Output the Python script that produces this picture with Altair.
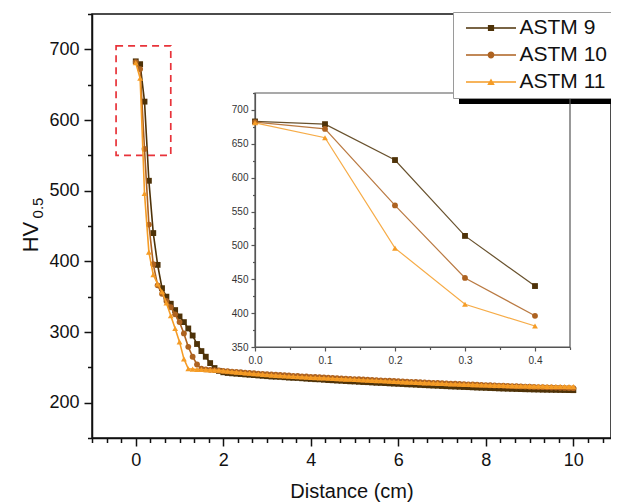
import altair as alt
import pandas as pd

# ---------------- data ----------------
series_names = ["ASTM 9", "ASTM 10", "ASTM 11"]
series_colors = ["#4e3208", "#ad6220", "#f59c26"]
series_shapes = ["square", "circle", "triangle-up"]

distance = [round(i * 0.1, 1) for i in range(101)]

astm9 = [683, 679, 626, 514, 440, 395, 362, 350, 340, 331,
         322, 314, 305, 295, 283, 273, 265, 256, 249, 245,
         243, 242, 241.5, 241, 240.5, 240, 239.5, 239, 238.5, 238,
         237.5, 237, 236.8, 236.5, 236, 235.5, 235.2, 235, 234.5, 234,
         233.6, 233.2, 233, 232.5, 232, 231.7, 231.3, 231, 230.6, 230.2,
         230, 229.6, 229.2, 229, 228.6, 228.2, 228, 227.7, 227.3, 227,
         226.7, 226.4, 226, 225.8, 225.5, 225.1, 224.8, 224.5, 224.2, 224,
         223.6, 223.3, 223, 222.8, 222.5, 222.2, 222, 221.7, 221.4, 221.2,
         221, 220.7, 220.5, 220.2, 220, 219.8, 219.6, 219.4, 219.2, 219,
         218.9, 218.7, 218.6, 218.4, 218.3, 218.2, 218.1, 218, 217.9, 217.8, 217.7]

astm10 = [682, 672, 559, 452, 396, 366, 354, 344, 335, 325,
          314, 298, 279, 265, 254, 248, 247, 246.5, 246, 245.5,
          245, 244.5, 244, 243.5, 243, 242.5, 242, 241.6, 241.2, 240.8,
          240.4, 240, 239.6, 239.2, 238.8, 238.4, 238, 237.7, 237.3, 237,
          236.6, 236.3, 236, 235.6, 235.3, 235, 234.6, 234.3, 234, 233.7,
          233.4, 233.1, 232.8, 232.5, 232.2, 231.9, 231.6, 231.3, 231, 230.7,
          230.4, 230.1, 229.8, 229.5, 229.2, 229, 228.7, 228.4, 228.1, 227.9,
          227.6, 227.3, 227, 226.8, 226.5, 226.2, 226, 225.7, 225.4, 225.2,
          224.9, 224.7, 224.4, 224.2, 223.9, 223.7, 223.4, 223.2, 223, 222.8,
          222.5, 222.3, 222.1, 221.9, 221.7, 221.5, 221.3, 221.1, 220.9, 220.7, 220.5]

astm11 = [681, 659, 496, 413, 381, 368, 357, 341, 323, 305,
          286, 262, 248, 247.5, 247, 246.8, 246.5, 246.3, 246, 245.8,
          245, 244.4, 243.8, 243.2, 242.6, 242, 241.5, 241, 240.5, 240,
          239.5, 239, 238.6, 238.2, 237.8, 237.4, 237, 236.6, 236.3, 236,
          235.7, 235.4, 235.1, 234.8, 234.5, 234.2, 233.9, 233.6, 233.3, 233,
          232.7, 232.4, 232.1, 231.8, 231.5, 231.2, 230.9, 230.6, 230.3, 230,
          229.7, 229.4, 229.1, 228.8, 228.6, 228.3, 228, 227.8, 227.5, 227.3,
          227, 226.8, 226.5, 226.3, 226.1, 225.9, 225.7, 225.5, 225.3, 225.1,
          224.9, 224.7, 224.5, 224.4, 224.2, 224, 223.9, 223.7, 223.6, 223.5,
          223.4, 223.3, 223.2, 223.1, 223, 222.9, 222.9, 222.8, 222.8, 222.7, 222.7]

inset_distance = [0.0, 0.1, 0.2, 0.3, 0.4]
inset9 = [683, 679, 626, 514, 440]
inset10 = [682, 672, 559, 452, 396]
inset11 = [681, 659, 496, 413, 381]

zoom_box = {"x": -0.45, "x2": 0.8, "y": 550, "y2": 705}

main_x_domain = [-1, 10.86]
main_y_domain = [150, 750]
inset_x_domain = [0, 0.45]
inset_y_domain = [350, 725]

FONT = "Liberation Sans"

# ---------------- scales / axes ----------------
W, H = 519, 424

main_x_ticks = [round(-1 + k / 3, 6) for k in range(36)]
main_y_ticks = list(range(150, 751, 50))
inset_x_ticks = [round(k * 0.05, 2) for k in range(10)]
inset_y_ticks = list(range(350, 726, 25))

main_x_axis = alt.Axis(
    orient="bottom", values=main_x_ticks, title="Distance (cm)", grid=False,
    labelExpr="abs(datum.value/2 - round(datum.value/2)) < 0.001 ? format(round(datum.value), 'd') : ''",
    tickSize={"condition": {"test": "abs(datum.value/2 - round(datum.value/2)) < 0.001", "value": 8}, "value": 4.5},
    labelFontSize=18, labelFont=FONT, labelColor="#111", labelPadding=5,
    titleFontSize=20, titleFont=FONT, titleFontWeight="normal", titleColor="#111", titlePadding=12,
    domainColor="#111", domainWidth=1.5, tickColor="#111", tickWidth=1.5, labelFlush=False,
)
main_y_axis = alt.Axis(
    orient="left", values=main_y_ticks, title=None, grid=False,
    labelExpr="datum.value % 100 === 0 && datum.value >= 200 && datum.value <= 700 ? format(datum.value, 'd') : ''",
    tickSize={"condition": {"test": "datum.value % 100 === 0", "value": 8}, "value": 4.5},
    labelFontSize=18, labelFont=FONT, labelColor="#111", labelPadding=5,
    domainColor="#111", domainWidth=1.5, tickColor="#111", tickWidth=1.5, labelFlush=False,
)
inset_x_axis = alt.Axis(
    orient="bottom", offset=-91, values=inset_x_ticks, title=None, grid=False,
    labelExpr="abs(datum.value*10 - round(datum.value*10)) < 0.001 && datum.value < 0.42 ? format(datum.value, '.1f') : ''",
    tickSize={"condition": {"test": "abs(datum.value*10 - round(datum.value*10)) < 0.001", "value": 4}, "value": 2.5},
    labelFontSize=10, labelFont=FONT, labelColor="#333", labelPadding=4,
    domainColor="#555", domainWidth=1.2, tickColor="#555", tickWidth=1.2, labelFlush=False,
)
inset_y_axis = alt.Axis(
    orient="left", offset=-163, values=inset_y_ticks, title=None, grid=False,
    labelExpr="datum.value % 50 === 0 && datum.value <= 700 ? format(datum.value, 'd') : ''",
    tickSize={"condition": {"test": "datum.value % 50 === 0", "value": 4}, "value": 2.5},
    labelFontSize=10, labelFont=FONT, labelColor="#333", labelPadding=3,
    domainColor="#555", domainWidth=1.2, tickColor="#555", tickWidth=1.2, labelFlush=False,
)

main_xs = alt.Scale(domain=main_x_domain, nice=False, zero=False)
main_ys = alt.Scale(domain=main_y_domain, nice=False, zero=False)
inset_xs = alt.Scale(domain=inset_x_domain, range=[163, 478], nice=False, zero=False)
inset_ys = alt.Scale(domain=inset_y_domain, range=[333, 79], nice=False, zero=False)

# ---------------- main plot ----------------
main_vals = [astm9, astm10, astm11]
main_layers = []
for name, col, shp, vals in zip(series_names, series_colors, series_shapes, main_vals):
    df = pd.DataFrame({"d": distance, "hv": vals, "series": name})
    base = alt.Chart(df).encode(
        x=alt.X("d:Q", scale=main_xs, axis=main_x_axis),
        y=alt.Y("hv:Q", scale=main_ys, axis=main_y_axis),
    )
    main_layers.append(base.mark_line(color=col, strokeWidth=1.6))
    main_layers.append(base.mark_point(shape=shp, filled=True, size=34, color=col, opacity=1))

box_df = pd.DataFrame([zoom_box])
zoom_rect = alt.Chart(box_df).mark_rect(
    filled=False, stroke="#e8333a", strokeWidth=1.7, strokeDash=[7, 5]
).encode(
    x=alt.X("x:Q", scale=main_xs, axis=main_x_axis), x2="x2:Q",
    y=alt.Y("y:Q", scale=main_ys, axis=main_y_axis), y2="y2:Q",
)

# frame of the main plot (top and right edges)
frame_main_df = pd.DataFrame({"x": [main_x_domain[0]], "x2": [main_x_domain[1]],
                              "y": [main_y_domain[0]], "y2": [main_y_domain[1]]})
main_frame = alt.Chart(frame_main_df).mark_rect(filled=False, stroke="#111", strokeWidth=1.5).encode(
    x=alt.X("x:Q", scale=main_xs, axis=main_x_axis), x2="x2:Q",
    y=alt.Y("y:Q", scale=main_ys, axis=main_y_axis), y2="y2:Q",
)

# legend carrier (custom symbols: line + marker)
legend_paths = [
    "M-5,-0.14L5,-0.14L5,0.14L-5,0.14Z M-0.62,-0.62L0.62,-0.62L0.62,0.62L-0.62,0.62Z",
    "M-5,-0.14L5,-0.14L5,0.14L-5,0.14Z M0.68,0A0.68,0.68 0 1,1 -0.68,0A0.68,0.68 0 1,1 0.68,0Z",
    "M-5,-0.14L5,-0.14L5,0.14L-5,0.14Z M0,-0.7L0.75,0.58L-0.75,0.58Z",
]
leg = alt.Legend(
    title=None, orient="none", legendX=361, legendY=-2,
    fillColor="white", strokeColor="#9a9a9a", padding=5.5,
    labelFontSize=21, labelFont=FONT, labelColor="#111", labelLimit=300,
    symbolSize=100, symbolStrokeWidth=0, symbolOffset=22, labelOffset=18,
    rowPadding=5, symbolOpacity=1,
)
leg_df = pd.DataFrame({"series": series_names, "d": [0, 0, 0], "hv": [400, 400, 400]})
legend_layer = alt.Chart(leg_df).transform_filter("false").mark_point(filled=True, size=100).encode(
    x=alt.X("d:Q", scale=main_xs, axis=main_x_axis),
    y=alt.Y("hv:Q", scale=main_ys, axis=main_y_axis),
    color=alt.Color("series:N", scale=alt.Scale(domain=series_names, range=series_colors), legend=leg),
    shape=alt.Shape("series:N", scale=alt.Scale(domain=series_names, range=legend_paths), legend=leg),
)

shadow = alt.Chart(pd.DataFrame({"k": [1]})).mark_rect(color="black").encode(
    x=alt.value(367), x2=alt.value(525), y=alt.value(3), y2=alt.value(90)
)

title_df = pd.DataFrame({"t": ["HV"]})
ytitle_main = alt.Chart(title_df).mark_text(
    angle=270, fontSize=22, font=FONT, color="#111", align="center", baseline="middle"
).encode(text="t:N", x=alt.value(-61), y=alt.value(223))
sub_df = pd.DataFrame({"t": ["0.5"]})
ytitle_sub = alt.Chart(sub_df).mark_text(
    angle=270, fontSize=15, font=FONT, color="#111", align="center", baseline="middle"
).encode(text="t:N", x=alt.value(-54), y=alt.value(194))

main_group = alt.layer(main_frame, shadow, zoom_rect, *main_layers, legend_layer, ytitle_main, ytitle_sub)

# ---------------- inset ----------------
inset_vals = [inset9, inset10, inset11]
inset_layers = []
for name, col, shp, vals in zip(series_names, series_colors, series_shapes, inset_vals):
    df = pd.DataFrame({"d": inset_distance, "hv": vals, "series": name})
    base = alt.Chart(df).encode(
        x=alt.X("d:Q", scale=inset_xs, axis=inset_x_axis),
        y=alt.Y("hv:Q", scale=inset_ys, axis=inset_y_axis),
    )
    inset_layers.append(base.mark_line(color=col, strokeWidth=1.2, opacity=0.85))
    inset_layers.append(base.mark_point(shape=shp, filled=True, size=34, color=col, opacity=1))

frame_df = pd.DataFrame({"x": [inset_x_domain[0]], "x2": [inset_x_domain[1]],
                         "y": [inset_y_domain[0]], "y2": [inset_y_domain[1]]})
inset_frame = alt.Chart(frame_df).mark_rect(filled=False, stroke="#555", strokeWidth=1.2).encode(
    x=alt.X("x:Q", scale=inset_xs, axis=inset_x_axis), x2="x2:Q",
    y=alt.Y("y:Q", scale=inset_ys, axis=inset_y_axis), y2="y2:Q",
)
inset_group = alt.layer(inset_frame, *inset_layers)

chart = alt.layer(main_group, inset_group).resolve_scale(
    x="independent", y="independent"
).properties(
    width=W, height=H, autosize="none",
    padding={"left": 84, "top": 6, "right": 0, "bottom": 65},
).configure(font=FONT).configure_view(stroke=None)

chart.save("out.html", embed_options={"renderer": "svg", "actions": False})
